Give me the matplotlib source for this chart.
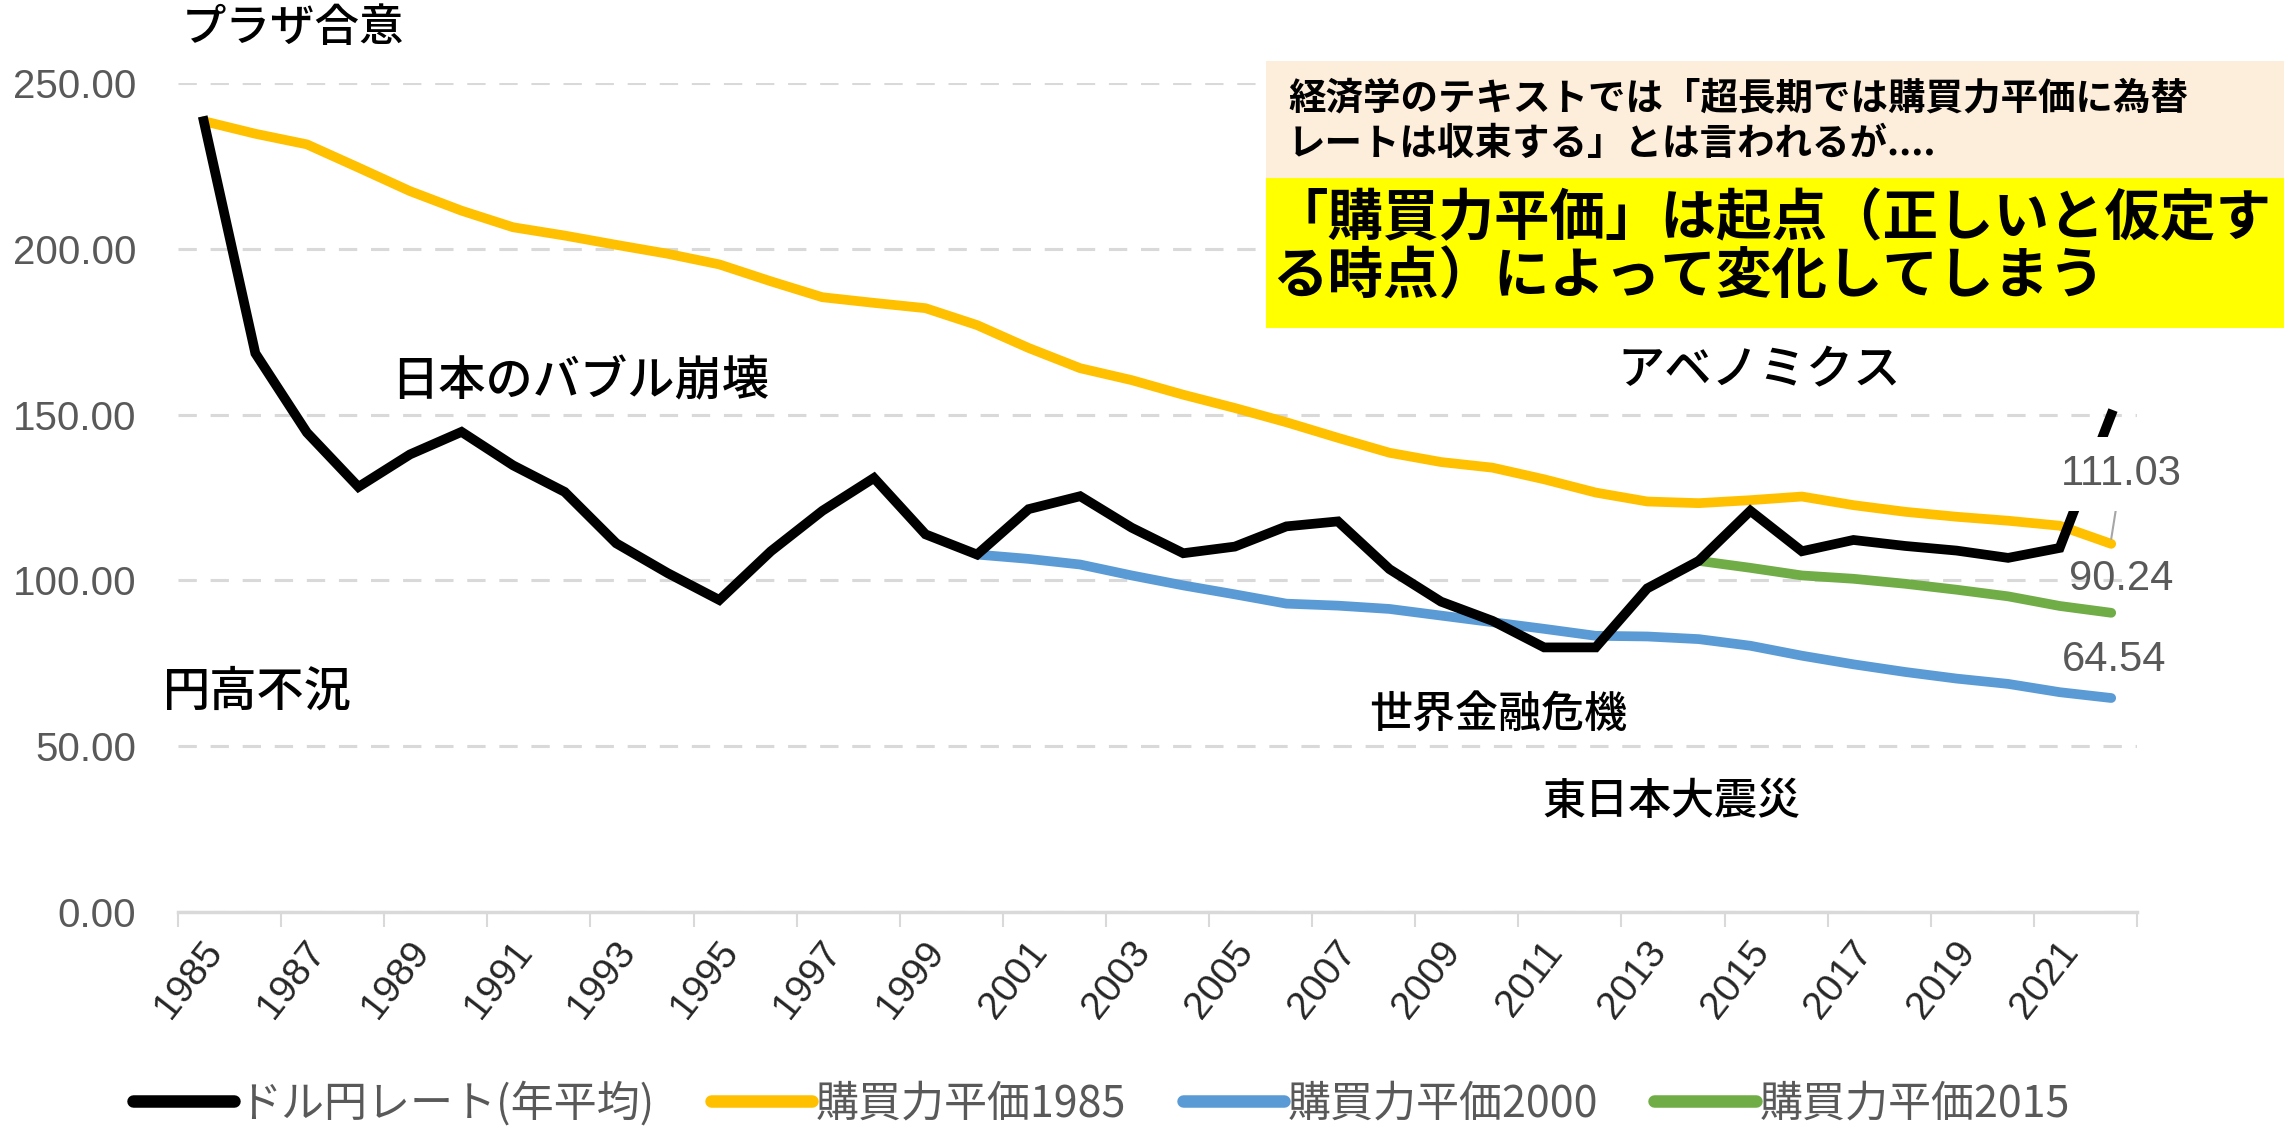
import matplotlib
matplotlib.use("Agg")
import matplotlib.pyplot as plt
import matplotlib.transforms as mtransforms
from matplotlib.patches import Rectangle
from matplotlib.ticker import FixedLocator, MultipleLocator

plt.rcParams['font.family'] = ['Noto Sans CJK JP', 'DejaVu Sans']

#%% Data
years = list(range(1985, 2023))
usd_jpy = [238.5, 168.5, 144.6, 128.2, 138.0, 144.8, 134.7, 126.7, 111.2, 102.2,
           94.1, 108.8, 121.0, 130.9, 113.9, 107.8, 121.5, 125.4, 115.9, 108.2,
           110.2, 116.3, 117.8, 103.4, 93.6, 87.8, 79.8, 79.8, 97.6, 105.9,
           121.0, 108.8, 112.2, 110.4, 109.0, 106.8, 109.8, 150.0]
ppp_1985 = [238.5, 234.7, 231.5, 224.5, 217.4, 211.5, 206.5, 204.0, 201.2, 198.5,
            195.3, 190.2, 185.4, 183.7, 182.1, 177.0, 170.1, 164.0, 160.4, 156.0,
            152.0, 147.7, 143.0, 138.5, 135.7, 134.0, 130.5, 126.5, 123.8, 123.3,
            124.2, 125.3, 122.7, 120.7, 119.2, 118.0, 116.5, 111.03]
years_2000 = list(range(2000, 2023))
ppp_2000 = [107.8, 106.5, 104.8, 101.5, 98.5, 95.8, 93.0, 92.4, 91.4, 89.4,
            87.4, 85.4, 83.3, 83.1, 82.3, 80.3, 77.3, 74.7, 72.4, 70.4,
            68.8, 66.3, 64.54]
years_2015 = list(range(2014, 2023))
ppp_2015 = [105.9, 103.8, 101.5, 100.5, 99.0, 97.2, 95.2, 92.3, 90.24]

series_labels = ["ドル円レート(年平均)", "購買力平価1985", "購買力平価2000", "購買力平価2015"]
colors = ["#000000", "#FFC000", "#5B9BD5", "#70AD47"]

events = [
    ("プラザ合意", 0.0795, 0.9744, 32),
    ("日本のバブル崩壊", 0.1709, 0.6622, 34),
    ("円高不況", 0.0712, 0.3882, 34),
    ("世界金融危機", 0.5983, 0.3678, 31),
    ("東日本大震災", 0.6740, 0.2909, 31),
    ("アベノミクス", 0.7067, 0.6720, 34),
]

TICK_FONT = ["Liberation Sans", "DejaVu Sans"]
GRAY = "#595959"

#%% Figure
fig = plt.figure(figsize=(22.88, 11.31), dpi=100)
ax = fig.add_axes([0.0778, 0.1936, 0.934 - 0.0778, 0.9266 - 0.1936])

ax.plot(years, usd_jpy, color=colors[0], lw=7, label=series_labels[0],
        solid_joinstyle="miter", zorder=4)
ax.plot(years, ppp_1985, color=colors[1], lw=7, label=series_labels[1],
        solid_capstyle="round", solid_joinstyle="round", zorder=3)
ax.plot(years_2000, ppp_2000, color=colors[2], lw=7, label=series_labels[2],
        solid_capstyle="round", solid_joinstyle="round", zorder=3)
ax.plot(years_2015, ppp_2015, color=colors[3], lw=7, label=series_labels[3],
        solid_capstyle="round", solid_joinstyle="round", zorder=3)

ax.set_xlim(1984.5, 2022.5)
ax.set_ylim(0, 250)

ax.yaxis.set_major_locator(MultipleLocator(50))
ax.yaxis.set_major_formatter(lambda v, p: f"{v:.2f}")
ax.grid(axis="y", color="#D9D9D9", lw=2.2, linestyle=(0, (6, 4.5)))
ax.set_axisbelow(True)

ax.xaxis.set_major_locator(FixedLocator(years[::2]))
ax.xaxis.set_minor_locator(FixedLocator([y - 0.5 for y in years[::2]] + [2022.5]))
ax.set_xticklabels([str(y) for y in years[::2]], rotation=52, ha="right",
                   va="center", rotation_mode="anchor")
ax.tick_params(axis="x", which="major", length=0, pad=24, labelsize=28, labelcolor="#262626")
ax.tick_params(axis="x", which="minor", length=11, width=1.5, color="#D9D9D9")
ax.tick_params(axis="y", length=0, pad=30, labelsize=29, labelcolor=GRAY)
shift = mtransforms.ScaledTranslation(12 / 100, 0, fig.dpi_scale_trans)
for lbl in ax.get_xticklabels():
    lbl.set_family(TICK_FONT)
    lbl.set_transform(lbl.get_transform() + shift)
for lbl in ax.get_yticklabels():
    lbl.set_family(TICK_FONT)

for side in ["top", "right", "left"]:
    ax.spines[side].set_visible(False)
ax.spines["bottom"].set_color("#D9D9D9")
ax.spines["bottom"].set_linewidth(2.5)

# data labels at the last year
ax.annotate("111.03", xy=(2022, ppp_1985[-1] + 1.5), xytext=(2022.2, 132.1),
            ha="center", va="center", fontsize=30, color=GRAY, family=TICK_FONT,
            bbox=dict(boxstyle="square,pad=0.4", fc="white", ec="none"),
            arrowprops=dict(arrowstyle="-", color="#A6A6A6", lw=1.5,
                            shrinkA=0, shrinkB=0), zorder=6, annotation_clip=False)
ax.text(2022.2, 100.4, f"{ppp_2015[-1]:.2f}", ha="center", va="center", fontsize=30,
        color=GRAY, family=TICK_FONT, zorder=6)
ax.text(2022.05, 76.0, f"{ppp_2000[-1]:.2f}", ha="center", va="center", fontsize=30,
        color=GRAY, family=TICK_FONT, zorder=6)

leg = ax.legend(loc="center", bbox_to_anchor=(0.4815, 0.024), bbox_transform=fig.transFigure,
                ncol=4, frameon=False, fontsize=31, handlelength=2.35, handletextpad=0.1,
                columnspacing=1.3, labelcolor=GRAY)
for h in leg.get_lines():
    h.set_linewidth(9)
    h.set_solid_capstyle("round")

#%% Event annotations
for text, x, y, size in events:
    fig.text(x, y, text, ha="left", va="center", fontsize=size, color="black",
             fontweight="medium")

# message boxes
fig.add_artist(Rectangle((1266 / 2288, 1 - 178 / 1131), (2284 - 1266) / 2288, 117 / 1131,
                         transform=fig.transFigure, fc="#FDEEDC", ec="none", zorder=5))
fig.add_artist(Rectangle((1266 / 2288, 1 - 328 / 1131), (2284 - 1266) / 2288, 150 / 1131,
                         transform=fig.transFigure, fc="#FFFF00", ec="none", zorder=5))
fig.text(1288 / 2288, 1 - 98 / 1131, "経済学のテキストでは「超長期では購買力平価に為替",
         ha="left", va="center", fontsize=27, fontweight="bold", zorder=6)
fig.text(1288 / 2288, 1 - 143 / 1131, "レートは収束する」とは言われるが....",
         ha="left", va="center", fontsize=27, fontweight="bold", zorder=6)
fig.text(1272 / 2288, 1 - 219 / 1131, "「購買力平価」は起点（正しいと仮定す",
         ha="left", va="center", fontsize=40, fontweight="bold", zorder=6)
fig.text(1272 / 2288, 1 - 277 / 1131, "る時点）によって変化してしまう",
         ha="left", va="center", fontsize=40, fontweight="bold", zorder=6)

fig.savefig("out.png", dpi=100)
